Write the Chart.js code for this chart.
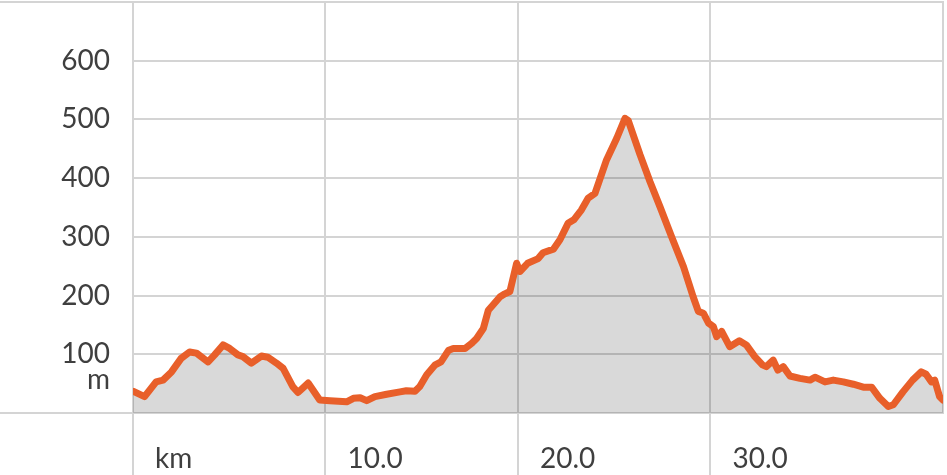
<!DOCTYPE html>
<html><head><meta charset="utf-8">
<script src="https://cdn.jsdelivr.net/npm/chart.js@4"></script>
<style>html,body{margin:0;padding:0;background:#fff;overflow:hidden}</style>
</head><body>
<canvas id="c" width="947" height="475" style="display:block;width:947px;height:475px"></canvas>
<script>
const distKm = [0, 0.6, 1.2, 1.56, 2.0, 2.5, 2.94, 3.3, 3.9, 4.24, 4.68, 5.02, 5.45, 5.71, 6.15, 6.67, 7.0, 7.45, 7.8, 8.3, 8.57, 9.1, 9.7, 10.23, 11.1, 11.45, 11.8, 12.14, 12.57, 13.18, 13.87, 14.2, 14.65, 14.9, 15.26, 15.7, 16.0, 16.4, 16.64, 17.25, 17.6, 17.85, 18.2, 18.46, 18.7, 19.07, 19.32, 19.58, 19.93, 20.1, 20.5, 21.05, 21.3, 21.84, 22.18, 22.6, 22.9, 23.3, 23.65, 24.0, 24.6, 25.13, 25.56, 25.73, 26.34, 26.86, 27.38, 27.98, 28.6, 29.1, 29.37, 29.63, 29.9, 30.15, 30.32, 30.58, 31.0, 31.5, 31.86, 32.3, 32.7, 32.9, 33.26, 33.5, 33.78, 34.13, 34.65, 35.17, 35.43, 35.95, 36.38, 36.9, 37.42, 37.94, 38.37, 38.8, 39.24, 39.5, 40.0, 40.5, 40.95, 41.2, 41.48, 41.65, 41.9, 42.08];
const elevM = [37, 28, 53, 56, 70, 93, 104, 102, 87, 99, 116, 110, 99, 96, 85, 97, 95, 85, 76, 45, 35, 51, 22, 21, 19, 25, 26, 21, 28, 32, 36, 38, 37, 45, 65, 82, 87, 107, 110, 110, 119, 127, 144, 175, 184, 198, 203, 207, 255, 241, 255, 263, 273, 279, 295, 323, 329, 346, 366, 374, 431, 468, 502, 498, 440, 394, 351, 300, 249, 198, 173, 170, 153, 147, 130, 139, 113, 123, 116, 96, 82, 79, 90, 73, 79, 63, 59, 56, 61, 53, 56, 53, 49, 44, 44, 25, 11, 14, 36, 56, 70, 66, 53, 56, 28, 22];
const xTickValues = [0, 10, 20, 30];
const xTickLabels = ['km', '10.0', '20.0', '30.0'];
const yTickValues = [0, 56, 100, 200, 300, 400, 500, 600, 700];
const yTickLabels = ['', 'm', '100', '200', '300', '400', '500', '600', ''];

const GRID = '#d4d4d4';
const CLEAR = 'rgba(0,0,0,0)';
const FONT = {family: 'Lato', size: 28};
const TEXT = '#3f3f3f';

const points = distKm.map((d, i) => ({x: d, y: elevM[i]}));

new Chart(document.getElementById('c'), {
  type: 'line',
  data: {
    datasets: [{
      data: points,
      borderColor: '#e85f2a',
      borderWidth: 7,
      backgroundColor: 'rgba(0,0,0,0.15)',
      fill: 'origin',
      pointRadius: 0,
      tension: 0,
      clip: 0,
      borderJoinStyle: 'round',
      borderCapStyle: 'round'
    }]
  },
  options: {
    responsive: false,
    devicePixelRatio: 1,
    animation: false,
    layout: {padding: {top: 2, right: 4, left: 0, bottom: 0}},
    plugins: {legend: {display: false}, tooltip: {enabled: false}},
    scales: {
      x: {
        type: 'linear',
        min: 0,
        max: 42.08,
        afterBuildTicks: s => { s.ticks = xTickValues.map(v => ({value: v})); },
        afterFit: s => { s.height = 62; s.paddingLeft = 0; s.paddingRight = 0; },
        grid: {color: GRID, lineWidth: 2, drawTicks: true, tickLength: 62, tickColor: GRID},
        border: {display: false},
        ticks: {
          autoSkip: false, maxRotation: 0, align: 'start', labelOffset: 22, padding: -33,
          font: FONT, color: TEXT,
          callback: (v, i) => xTickLabels[i]
        }
      },
      y: {
        type: 'linear',
        min: 0,
        max: 700,
        afterBuildTicks: s => { s.ticks = yTickValues.map(v => ({value: v})); },
        afterFit: s => { s.width = 133; s.paddingTop = 0; s.paddingBottom = 0; },
        grid: {
          color: c => (c.tick && c.tick.value === 56) ? CLEAR : GRID,
          lineWidth: 2, drawTicks: true, tickLength: 133,
          tickColor: c => (c.tick && (c.tick.value === 0 || c.tick.value === 700)) ? GRID : CLEAR
        },
        border: {display: false},
        ticks: {
          autoSkip: false, padding: -110, font: FONT, color: TEXT,
          callback: (v, i) => yTickLabels[i]
        }
      },
      yRight: {
        type: 'linear',
        position: 'right',
        min: 0,
        max: 700,
        afterFit: s => { s.width = 0; s.paddingTop = 0; s.paddingBottom = 0; },
        grid: {display: false, drawTicks: false},
        ticks: {display: false},
        border: {display: true, color: GRID, width: 2}
      }
    }
  }
});
</script>
</body></html>
